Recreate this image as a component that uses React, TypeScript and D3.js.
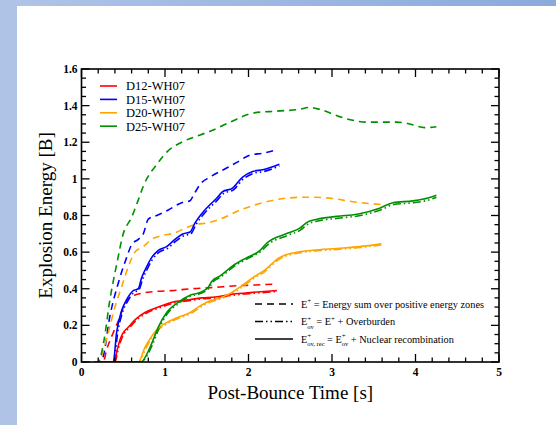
import React from "react";
import * as d3 from "d3";

// Explosion energy [B] vs post-bounce time [s], one entry per model.
const models = ["D12-WH07", "D15-WH07", "D20-WH07", "D25-WH07"];
const modelColors = ["#ff0000", "#0000ff", "#ffa500", "#008f00"];

// E+ : energy sum over positive-energy zones (dashed)
const d12EPlus: [number, number][] = [[0.15,0],[0.26,0],[0.30,0.065],[0.38,0.16],[0.46,0.245],[0.52,0.32],[0.60,0.355],[0.72,0.375],[0.88,0.385],[1.08,0.39],[1.32,0.40],[1.52,0.405],[1.81,0.415],[2.05,0.42],[2.29,0.425]];
const d15EPlus: [number, number][] = [[0.15,0],[0.23,0],[0.26,0.03],[0.34,0.25],[0.44,0.43],[0.54,0.57],[0.60,0.64],[0.68,0.67],[0.74,0.70],[0.80,0.78],[0.90,0.80],[1.04,0.83],[1.20,0.87],[1.30,0.88],[1.34,0.91],[1.42,0.97],[1.54,1.01],[1.70,1.05],[1.86,1.09],[2.02,1.13],[2.17,1.14],[2.35,1.16]];
const d20EPlus: [number, number][] = [[0.15,0],[0.22,0],[0.24,0.03],[0.32,0.16],[0.40,0.30],[0.48,0.41],[0.56,0.52],[0.64,0.60],[0.74,0.63],[0.84,0.67],[0.96,0.69],[1.12,0.705],[1.24,0.73],[1.36,0.75],[1.51,0.76],[1.66,0.78],[1.90,0.83],[2.17,0.87],[2.46,0.895],[2.70,0.90],[2.97,0.895],[3.25,0.875],[3.59,0.86]];
const d25EPlus: [number, number][] = [[0.15,0],[0.20,0],[0.27,0.12],[0.34,0.34],[0.42,0.53],[0.50,0.70],[0.60,0.79],[0.68,0.885],[0.74,0.96],[0.92,1.09],[1.03,1.15],[1.20,1.20],[1.42,1.24],[1.54,1.26],[1.78,1.31],[2.06,1.36],[2.34,1.37],[2.61,1.38],[2.73,1.39],[2.85,1.38],[3.09,1.34],[3.25,1.32],[3.41,1.31],[3.61,1.31],[3.77,1.31],[3.93,1.30],[4.11,1.28],[4.25,1.285]];

// E+_ov : E+ plus overburden (dash-dot-dot)
const d12EOv: [number, number][] = [[0.15,0],[0.40,0],[0.41,0.01],[0.44,0.07],[0.47,0.115],[0.51,0.155],[0.57,0.185],[0.65,0.225],[0.77,0.265],[0.93,0.295],[1.13,0.325],[1.29,0.335],[1.45,0.345],[1.61,0.35],[1.82,0.365],[2.06,0.375],[2.34,0.385]];
const d15EOv: [number, number][] = [[0.15,0],[0.39,0],[0.43,0.15],[0.49,0.27],[0.55,0.33],[0.63,0.38],[0.69,0.395],[0.73,0.45],[0.79,0.51],[0.85,0.56],[0.93,0.60],[1.03,0.62],[1.13,0.66],[1.23,0.69],[1.31,0.70],[1.37,0.75],[1.45,0.80],[1.55,0.85],[1.61,0.875],[1.70,0.92],[1.82,0.94],[1.94,1.00],[2.06,1.03],[2.18,1.04],[2.37,1.07]];
const d20EOv: [number, number][] = [[0.15,0],[0.69,0],[0.77,0.075],[0.85,0.135],[0.93,0.18],[1.05,0.215],[1.17,0.24],[1.29,0.26],[1.41,0.295],[1.53,0.325],[1.67,0.345],[1.79,0.37],[1.91,0.405],[2.06,0.455],[2.20,0.495],[2.38,0.565],[2.54,0.59],[2.78,0.605],[3.07,0.615],[3.34,0.625],[3.59,0.64]];
const d25EOv: [number, number][] = [[0.15,0],[0.73,0],[0.75,0.01],[0.85,0.095],[0.93,0.185],[1.03,0.265],[1.15,0.315],[1.31,0.36],[1.43,0.375],[1.53,0.405],[1.57,0.435],[1.67,0.465],[1.82,0.52],[1.99,0.565],[2.15,0.605],[2.23,0.64],[2.46,0.69],[2.62,0.72],[2.72,0.755],[2.83,0.77],[3.07,0.785],[3.34,0.80],[3.58,0.83],[3.74,0.86],[3.98,0.87],[4.16,0.885],[4.25,0.90]];

// E+_ov,rec : additionally with nuclear recombination (solid)
const d12ERec: [number, number][] = [[0.15,0],[0.39,0],[0.40,0.01],[0.43,0.07],[0.46,0.12],[0.50,0.16],[0.56,0.19],[0.64,0.23],[0.76,0.27],[0.92,0.30],[1.12,0.33],[1.28,0.34],[1.44,0.35],[1.60,0.355],[1.81,0.37],[2.05,0.38],[2.34,0.39]];
const d15ERec: [number, number][] = [[0.15,0],[0.38,0],[0.42,0.16],[0.48,0.28],[0.54,0.34],[0.62,0.39],[0.68,0.40],[0.72,0.46],[0.78,0.52],[0.84,0.57],[0.92,0.61],[1.02,0.63],[1.12,0.67],[1.22,0.70],[1.30,0.71],[1.36,0.76],[1.44,0.81],[1.54,0.86],[1.60,0.885],[1.69,0.93],[1.81,0.95],[1.93,1.01],[2.05,1.04],[2.17,1.05],[2.37,1.08]];
const d20ERec: [number, number][] = [[0.15,0],[0.68,0],[0.76,0.08],[0.84,0.14],[0.92,0.185],[1.04,0.22],[1.16,0.245],[1.28,0.265],[1.40,0.30],[1.52,0.33],[1.66,0.35],[1.78,0.375],[1.90,0.41],[2.05,0.46],[2.19,0.50],[2.37,0.57],[2.53,0.595],[2.77,0.61],[3.06,0.62],[3.33,0.63],[3.59,0.645]];
const d25ERec: [number, number][] = [[0.15,0],[0.72,0],[0.74,0.01],[0.84,0.10],[0.92,0.19],[1.02,0.27],[1.14,0.32],[1.30,0.365],[1.42,0.38],[1.52,0.41],[1.56,0.44],[1.66,0.47],[1.81,0.525],[1.98,0.57],[2.14,0.61],[2.22,0.65],[2.45,0.70],[2.61,0.73],[2.71,0.765],[2.82,0.78],[3.06,0.795],[3.33,0.81],[3.57,0.84],[3.73,0.87],[3.97,0.88],[4.15,0.895],[4.25,0.91]];

const ePlusSeries = [d12EPlus, d15EPlus, d20EPlus, d25EPlus];
const eOvSeries = [d12EOv, d15EOv, d20EOv, d25EOv];
const eRecSeries = [d12ERec, d15ERec, d20ERec, d25ERec];

const xMajorTicks = [0, 1, 2, 3, 4, 5];
const yMajorTicks = [0, 0.2, 0.4, 0.6, 0.8, 1, 1.2, 1.4, 1.6];

const W = 556;
const H = 425;
const SERIF = "'Liberation Serif', 'Times New Roman', Times, serif";
const DASH = "7,5";
const DASH_DOT = "8,3,1.5,3,1.5,3";

export default function App() {
  const left = 81.5, right = 499, top = 69, bottom = 362;
  const x = d3.scaleLinear().domain([0, 5]).range([left, right]);
  const y = d3.scaleLinear().domain([0, 1.6]).range([bottom, top]);
  const line = d3
    .line<[number, number]>()
    .x((d) => x(d[0]))
    .y((d) => y(d[1]))
    .curve(d3.curveMonotoneX);

  const xMinor = d3.range(0, 5.001, 0.2).filter((v) => Math.abs(v - Math.round(v)) > 1e-6);
  const yMinor = d3.range(0, 1.6001, 0.05).filter((v) => Math.abs(v * 5 - Math.round(v * 5)) > 1e-6);

  const fmt = (v: number) => String(+v.toFixed(1));

  const lg2x0 = 255, lg2x1 = 293, lg2tx = 301;
  const lg2y = [304, 321.5, 339];

  return (
    <svg
      width={W}
      height={H}
      style={{ position: "absolute", left: 0, top: 0, display: "block", background: "#fff" }}
    >
      <defs>
        <linearGradient id="topBand" x1="0" x2="1" y1="0" y2="0">
          <stop offset="0" stopColor="#b0c4e7" />
          <stop offset="1" stopColor="#8aaadc" />
        </linearGradient>
        <clipPath id="plotClip">
          <rect x={left} y={top} width={right - left} height={bottom - top} />
        </clipPath>
      </defs>
      <rect x={0} y={0} width={W} height={H} fill="#fff" />
      <rect x={0} y={0} width={W} height={6} fill="url(#topBand)" />
      <rect x={0} y={0} width={17} height={H} fill="#aec3e6" />

      {/* data curves */}
      <g clipPath="url(#plotClip)" fill="none" strokeWidth={1.6}>
        {ePlusSeries.map((s, i) => (
          <path key={"p" + i} d={line(s) || ""} stroke={modelColors[i]} strokeDasharray={DASH} />
        ))}
        {eOvSeries.map((s, i) => (
          <path key={"o" + i} d={line(s) || ""} stroke={modelColors[i]} strokeDasharray={DASH_DOT} />
        ))}
        {eRecSeries.map((s, i) => (
          <path key={"r" + i} d={line(s) || ""} stroke={modelColors[i]} />
        ))}
      </g>

      {/* frame and ticks */}
      <rect x={left} y={top} width={right - left} height={bottom - top} fill="none" stroke="#000" strokeWidth={1.6} />
      <g stroke="#000" strokeWidth={1.3}>
        {xMajorTicks.map((v) => (
          <g key={"xM" + v}>
            <line x1={x(v)} x2={x(v)} y1={bottom} y2={bottom - 8} />
            <line x1={x(v)} x2={x(v)} y1={top} y2={top + 8} />
          </g>
        ))}
        {xMinor.map((v) => (
          <g key={"xm" + v}>
            <line x1={x(v)} x2={x(v)} y1={bottom} y2={bottom - 4.5} />
            <line x1={x(v)} x2={x(v)} y1={top} y2={top + 4.5} />
          </g>
        ))}
        {yMajorTicks.map((v) => (
          <g key={"yM" + v}>
            <line x1={left} x2={left + 8} y1={y(v)} y2={y(v)} />
            <line x1={right} x2={right - 8} y1={y(v)} y2={y(v)} />
          </g>
        ))}
        {yMinor.map((v) => (
          <g key={"ym" + v}>
            <line x1={left} x2={left + 4.5} y1={y(v)} y2={y(v)} />
            <line x1={right} x2={right - 4.5} y1={y(v)} y2={y(v)} />
          </g>
        ))}
      </g>

      {/* tick labels */}
      <g fontFamily={SERIF} fontWeight="bold" fontSize={11.5} fill="#000">
        {xMajorTicks.map((v) => (
          <text key={"xl" + v} x={x(v)} y={bottom + 14} textAnchor="middle">
            {fmt(v)}
          </text>
        ))}
        {yMajorTicks.map((v) => (
          <text key={"yl" + v} x={left - 4} y={y(v) + 4} textAnchor="end">
            {fmt(v)}
          </text>
        ))}
      </g>

      {/* axis titles */}
      <text x={(left + right) / 2} y={399} textAnchor="middle" fontFamily={SERIF} fontSize={19}>
        Post-Bounce Time [s]
      </text>
      <text
        transform={`translate(52,${(top + bottom) / 2}) rotate(-90)`}
        textAnchor="middle"
        fontFamily={SERIF}
        fontSize={19}
      >
        Explosion Energy [B]
      </text>

      {/* model legend */}
      <g fontFamily={SERIF} fontSize={12.5}>
        {models.map((m, i) => {
          const ly = 86 + i * 13.4;
          return (
            <g key={m}>
              <line x1={100} x2={117} y1={ly} y2={ly} stroke={modelColors[i]} strokeWidth={1.6} />
              <text x={126} y={ly + 4.3}>{m}</text>
            </g>
          );
        })}
      </g>

      {/* energy-definition legend */}
      <g fontFamily={SERIF} fontSize={10.3} fill="#000">
        <line x1={lg2x0} x2={lg2x1} y1={lg2y[0]} y2={lg2y[0]} stroke="#000" strokeWidth={1.6} strokeDasharray={DASH} />
        <line x1={lg2x0} x2={lg2x1} y1={lg2y[1]} y2={lg2y[1]} stroke="#000" strokeWidth={1.6} strokeDasharray={DASH_DOT} />
        <line x1={lg2x0} x2={lg2x1} y1={lg2y[2]} y2={lg2y[2]} stroke="#000" strokeWidth={1.6} />
        <text x={lg2tx} y={lg2y[0] + 3.5}>
          E<tspan fontSize={7} dy={-4.5}>+</tspan>
          <tspan dy={4.5}> = Energy sum over positive energy zones</tspan>
        </text>
        <text x={lg2tx} y={lg2y[1] + 3.5}>
          E<tspan fontSize={7} dy={-4.5}>+</tspan>
          <tspan fontSize={6.5} dx={-4} dy={8}>ov</tspan>
          <tspan dy={-3.5}> = E</tspan>
          <tspan fontSize={7} dy={-4.5}>+</tspan>
          <tspan dy={4.5}> + Overburden</tspan>
        </text>
        <text x={lg2tx} y={lg2y[2] + 3.5}>
          E<tspan fontSize={7} dy={-4.5}>+</tspan>
          <tspan fontSize={6.5} dx={-4} dy={8}>ov, rec</tspan>
          <tspan dy={-3.5}> = E</tspan>
          <tspan fontSize={7} dy={-4.5}>+</tspan>
          <tspan fontSize={6.5} dx={-4} dy={8}>ov</tspan>
          <tspan dy={-3.5}> + Nuclear recombination</tspan>
        </text>
      </g>
    </svg>
  );
}
